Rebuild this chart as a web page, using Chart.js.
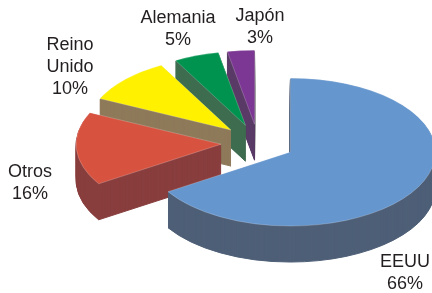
<!DOCTYPE html>
<html>
<head>
<meta charset="utf-8">
<script src="https://cdn.jsdelivr.net/npm/chart.js@4"></script>
<style>
  html, body { margin: 0; padding: 0; background: #fff; }
  #wrap { width: 432px; height: 293px; }
</style>
</head>
<body>
<div id="wrap"><canvas id="pie" width="432" height="293"></canvas></div>
<script>
// data
const countries = ['EEUU', 'Otros', ['Reino', 'Unido'], 'Alemania', 'Japón'];
const shares = [66, 16, 10, 5, 3];
const topColors = ['#6596ce', '#d75340', '#fff100', '#00924f', '#7c3794'];
const sideColors = ['#4e5f77', '#893e3e', '#8e7a5a', '#3e6c4f', '#5a3a66'];

// 3d look
const tilt = 0.51;     // vertical squash of the pie
const depth = 36;      // thickness in px
const explode = 37;    // how far each slice is pulled out
// label block: centre x, baseline of first line
const labelAt = [[405, 267], [30, 177], [70, 50], [178, 23], [260, 21]];

const pie3d = {
    id: 'pie3d',
    beforeDatasetsDraw(chart) {
        const ctx = chart.ctx;
        const arcs = chart.getDatasetMeta(0).data;
        const midOf = (a) => (a.startAngle + a.endAngle) / 2;

        function sector(a, dy) {
            const mid = midOf(a);
            ctx.save();
            ctx.translate(a.x, a.y + dy);
            ctx.scale(1, tilt);
            ctx.translate(Math.cos(mid) * explode, Math.sin(mid) * explode);
            ctx.beginPath();
            ctx.moveTo(0, 0);
            ctx.arc(0, 0, a.outerRadius, a.startAngle, a.endAngle);
            ctx.closePath();
            ctx.restore();
        }

        // sides, back slices first
        let order = arcs.map((a, i) => i);
        order.sort((p, q) => Math.sin(midOf(arcs[p])) - Math.sin(midOf(arcs[q])));
        order.forEach(i => {
            ctx.fillStyle = sideColors[i];
            ctx.strokeStyle = sideColors[i];
            ctx.lineWidth = 1;
            for (let dy = depth; dy >= 1; dy -= 1) {
                sector(arcs[i], dy);
                ctx.fill();
                ctx.stroke();
            }
        });
        // tops
        arcs.forEach((a, i) => {
            sector(a, 0);
            ctx.fillStyle = topColors[i];
            ctx.fill();
            ctx.strokeStyle = 'rgba(255,255,255,0.35)';
            ctx.lineWidth = 0.6;
            ctx.stroke();
        });
        return false;
    },
    afterDraw(chart) {
        const ctx = chart.ctx;
        const total = shares.reduce((s, v) => s + v, 0);
        ctx.save();
        ctx.font = '18px "Liberation Sans", Arial, sans-serif';
        ctx.fillStyle = '#231f20';
        ctx.textAlign = 'center';
        ctx.textBaseline = 'alphabetic';
        countries.forEach((name, i) => {
            let lines = [].concat(name);
            lines.push(Math.round(shares[i] / total * 100) + '%');
            lines.forEach((t, k) => {
                ctx.fillText(t, labelAt[i][0], labelAt[i][1] + k * 22);
            });
        });
        ctx.restore();
    }
};

new Chart(document.getElementById('pie'), {
    type: 'pie',
    data: {
        labels: countries,
        datasets: [{
            data: shares,
            backgroundColor: topColors,
            borderWidth: 0
        }]
    },
    options: {
        responsive: false,
        animation: false,
        devicePixelRatio: 1,
        radius: 145,
        layout: { padding: { left: 84, right: 0, top: 0, bottom: 7 } },
        events: [],
        plugins: {
            legend: { display: false },
            tooltip: { enabled: false }
        }
    },
    plugins: [pie3d]
});
</script>
</body>
</html>
